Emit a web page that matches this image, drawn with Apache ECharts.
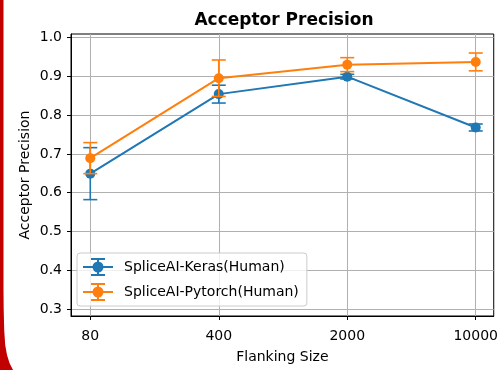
<!DOCTYPE html>
<html>
<head>
<meta charset="utf-8">
<script src="https://cdn.jsdelivr.net/npm/echarts@6/dist/echarts.min.js"></script>
<style>html,body{margin:0;padding:0;background:#fff;}#c{width:501px;height:370px;}</style>
</head>
<body>
<div id="c"></div>
<script>
var categories = ['80', '400', '2000', '10000'];
var kerasMean = [0.649, 0.854, 0.899, 0.768];
var kerasErr = [0.067, 0.023, 0.006, 0.009];
var pytorchMean = [0.689, 0.895, 0.930, 0.937];
var pytorchErr = [0.040, 0.047, 0.018, 0.023];
var yTicks = [0.3, 0.4, 0.5, 0.6, 0.7, 0.8, 0.9, 1.0];
var seriesNames = ['SpliceAI-Keras(Human)', 'SpliceAI-Pytorch(Human)'];

var BLUE = '#1f77b4', ORANGE = '#ff7f0e';
var FONT = 'DejaVu Sans';
var xIdx = categories.map(function (c, i) { return i; });

function pts(mean) { return mean.map(function (m, i) { return [i, m]; }); }
function errData(mean, err) { return mean.map(function (m, i) { return [i, m - err[i], m + err[i]]; }); }
function errSeries(name, mean, err, color, z) {
  return {
    type: 'custom', name: name, z: z, silent: true,
    data: errData(mean, err),
    renderItem: function (params, api) {
      var x = api.value(0);
      var top = api.coord([x, api.value(2)]);
      var bot = api.coord([x, api.value(1)]);
      var hw = 7;
      var st = { stroke: color, lineWidth: 1.6 };
      return { type: 'group', children: [
        { type: 'line', shape: { x1: top[0], y1: top[1], x2: bot[0], y2: bot[1] }, style: st },
        { type: 'line', shape: { x1: top[0] - hw, y1: top[1], x2: top[0] + hw, y2: top[1] }, style: st },
        { type: 'line', shape: { x1: bot[0] - hw, y1: bot[1], x2: bot[0] + hw, y2: bot[1] }, style: st }
      ] };
    }
  };
}
function lineSeries(name, mean, color, z) {
  return {
    type: 'line', name: name, z: z, data: pts(mean),
    symbol: 'circle', symbolSize: 10, showSymbol: true,
    lineStyle: { color: color, width: 2 },
    itemStyle: { color: color },
    emphasis: { disabled: true }, animation: false
  };
}
var icon = 'path://M0,9 H30 V11 H0 Z M14,2 H16 V18 H14 Z M8,1 H22 V3 H8 Z M8,17 H22 V19 H8 Z M20.5,10 A5.5,5.5 0 1,1 9.5,10 A5.5,5.5 0 1,1 20.5,10 Z';

var chart = echarts.init(document.getElementById('c'), null, { renderer: 'canvas' });
chart.setOption({
  animation: false,
  backgroundColor: '#fff',
  title: {
    text: 'Acceptor Precision', left: 279, top: 7, textAlign: 'center',
    textStyle: { fontFamily: FONT, fontSize: 17, fontWeight: 'bold', color: '#000' }
  },
  grid: { left: 71, top: 34, width: 423, height: 282, show: true, borderColor: '#000', borderWidth: 1, backgroundColor: 'transparent' },
  legend: {
    orient: 'vertical', left: 77, top: 253,
    padding: [5, 8, 5, 6], itemGap: 7, itemWidth: 30, itemHeight: 18,
    backgroundColor: 'rgba(255,255,255,0.8)', borderColor: '#cccccc', borderWidth: 1, borderRadius: 3,
    textStyle: { fontFamily: FONT, fontSize: 14, color: '#000', padding: [0, 0, 0, 6] },
    data: [
      { name: seriesNames[0], icon: icon, itemStyle: { color: BLUE } },
      { name: seriesNames[1], icon: icon, itemStyle: { color: ORANGE } }
    ],
    selectedMode: false
  },
  xAxis: {
    type: 'value', min: -0.15, max: 3.14,
    name: 'Flanking Size', nameLocation: 'middle', nameGap: 34, nameMoveOverlap: false,
    nameTextStyle: { fontFamily: FONT, fontSize: 14, color: '#000' },
    axisLine: { show: true, onZero: false, lineStyle: { color: '#000', width: 1 } },
    axisTick: { show: true, length: 4, customValues: xIdx, lineStyle: { color: '#000' } },
    axisLabel: { customValues: xIdx, margin: 13, fontFamily: FONT, fontSize: 14, color: '#000',
      formatter: function (v) { return categories[Math.round(v)]; } },
    splitLine: { show: true, lineStyle: { color: '#b0b0b0', width: 1 } }
  },
  yAxis: {
    type: 'value', min: 0.282, max: 1.009,
    name: 'Acceptor Precision', nameLocation: 'middle', nameGap: 39, nameMoveOverlap: false,
    nameTextStyle: { fontFamily: FONT, fontSize: 14, color: '#000' },
    axisLine: { show: true, onZero: false, lineStyle: { color: '#000', width: 1 } },
    axisTick: { show: true, length: 4, customValues: yTicks, lineStyle: { color: '#000' } },
    axisLabel: { customValues: yTicks, margin: 9, fontFamily: FONT, fontSize: 14, color: '#000',
      formatter: function (v) { return v.toFixed(1); } },
    splitLine: { show: true, lineStyle: { color: '#b0b0b0', width: 1 } }
  },
  series: [
    errSeries(seriesNames[0], kerasMean, kerasErr, BLUE, 2),
    lineSeries(seriesNames[0], kerasMean, BLUE, 3),
    errSeries(seriesNames[1], pytorchMean, pytorchErr, ORANGE, 4),
    lineSeries(seriesNames[1], pytorchMean, ORANGE, 5)
  ],
  graphic: [{
    type: 'polygon', silent: true, z: 100,
    shape: { points: [[0,0],[3.5,0],[3.5,290],[3.7,310],[4.2,330],[5.2,345],[7,355],[9.5,363],[13,370],[0,370]] },
    style: { fill: '#c10000' }
  }]
});
</script>
</body>
</html>
